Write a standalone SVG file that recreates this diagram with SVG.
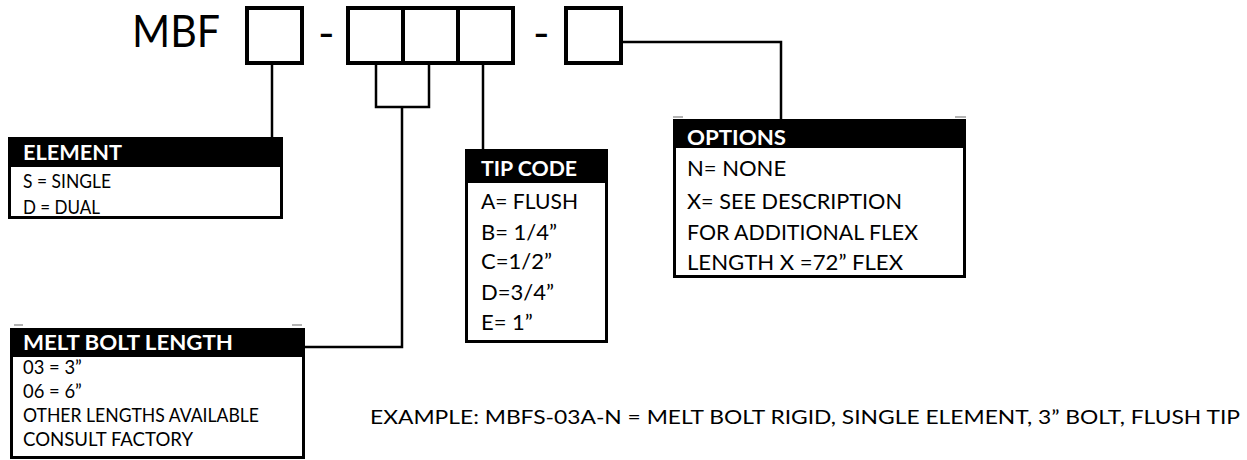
<svg xmlns="http://www.w3.org/2000/svg" width="1247" height="460" viewBox="0 0 1247 460">
<style>
.t{font-family:Lato,"Open Sans","Liberation Sans",sans-serif;fill:#000}
.h{font-family:Lato,"Open Sans","Liberation Sans",sans-serif;font-weight:bold;fill:#fff}
.big{font-size:44.7px}
.s{font-size:18.4px}
.m{font-size:22px}
.hs{font-size:21px}
.box{fill:none;stroke:#000;stroke-width:4}
.frame{fill:#fff;stroke:#000;stroke-width:3}
.hdr{fill:#000}
.ln{fill:none;stroke:#000;stroke-width:2.5}
.gr{stroke:#9a9a9a;stroke-width:1.5}
</style>
<g id="code">
<text class="t big" x="132" y="47" textLength="88" lengthAdjust="spacingAndGlyphs">MBF</text>
<rect class="box" x="247" y="8" width="55" height="55"/>
<text class="t big" x="318" y="49">-</text>
<rect class="box" x="348" y="8" width="165" height="55"/>
<line class="box" x1="403" y1="8" x2="403" y2="63"/>
<line class="box" x1="458" y1="8" x2="458" y2="63"/>
<text class="t big" x="533" y="49">-</text>
<rect class="box" x="566" y="8" width="55" height="55"/>
</g>
<g id="connectors">
<polyline class="ln" points="272,64 272,138"/>
<polyline class="ln" points="376,64 376,107 429,107 429,64"/>
<polyline class="ln" points="402,107 402,347 304,347"/>
<polyline class="ln" points="483,64 483,150"/>
<polyline class="ln" points="622,42 781,42 781,120"/>
</g>
<g id="element">
<rect class="frame" x="9.5" y="138.5" width="272" height="79"/>
<rect class="hdr" x="8" y="137" width="275" height="30"/>
<text class="h hs" x="23" y="160" textLength="99" lengthAdjust="spacingAndGlyphs">ELEMENT</text>
<text class="t s" x="23" y="187.5" textLength="88" lengthAdjust="spacingAndGlyphs">S = SINGLE</text>
<text class="t s" x="23" y="213.5" textLength="77" lengthAdjust="spacingAndGlyphs">D = DUAL</text>
</g>
<g id="tipcode">
<rect class="frame" x="466.5" y="150.5" width="140" height="191"/>
<rect class="hdr" x="465" y="149" width="143" height="34"/>
<text class="h hs" x="481" y="176" textLength="96" lengthAdjust="spacingAndGlyphs">TIP CODE</text>
<text class="t m" x="481" y="209" textLength="97" lengthAdjust="spacingAndGlyphs">A= FLUSH</text>
<text class="t m" x="481" y="240">B= 1/4”</text>
<text class="t m" x="481" y="269">C=1/2”</text>
<text class="t m" x="481" y="300">D=3/4”</text>
<text class="t m" x="481" y="330">E= 1”</text>
</g>
<g id="options">
<rect class="frame" x="674.5" y="120.5" width="290" height="156"/>
<rect class="hdr" x="673" y="119" width="293" height="29"/>
<line class="gr" x1="673" y1="117" x2="683" y2="117"/>
<line class="gr" x1="955" y1="117" x2="966" y2="117"/>
<text class="h hs" x="687" y="145" textLength="99" lengthAdjust="spacingAndGlyphs">OPTIONS</text>
<text class="t m" x="687" y="176">N= NONE</text>
<text class="t m" x="687" y="209" textLength="215" lengthAdjust="spacingAndGlyphs">X= SEE DESCRIPTION</text>
<text class="t m" x="687" y="240" textLength="231" lengthAdjust="spacingAndGlyphs">FOR ADDITIONAL FLEX</text>
<text class="t m" x="687" y="270" textLength="216" lengthAdjust="spacingAndGlyphs">LENGTH X =72” FLEX</text>
</g>
<g id="meltbolt">
<rect class="frame" x="11.5" y="329.5" width="292" height="128"/>
<rect class="hdr" x="10" y="328" width="295" height="29"/>
<line class="gr" x1="14" y1="325" x2="23" y2="325"/>
<line class="gr" x1="292" y1="325" x2="302" y2="325"/>
<text class="h hs" x="23" y="350" textLength="210" lengthAdjust="spacingAndGlyphs">MELT BOLT LENGTH</text>
<text class="t s" x="23" y="374">03 = 3”</text>
<text class="t s" x="23" y="398">06 = 6”</text>
<text class="t s" x="23" y="422" textLength="236" lengthAdjust="spacingAndGlyphs">OTHER LENGTHS AVAILABLE</text>
<text class="t s" x="23" y="446" textLength="170" lengthAdjust="spacingAndGlyphs">CONSULT FACTORY</text>
</g>
<g id="example">
<text class="t s" x="370" y="424" textLength="870" lengthAdjust="spacingAndGlyphs">EXAMPLE: MBFS-03A-N = MELT BOLT RIGID, SINGLE ELEMENT, 3” BOLT, FLUSH TIP</text>
</g>
</svg>
